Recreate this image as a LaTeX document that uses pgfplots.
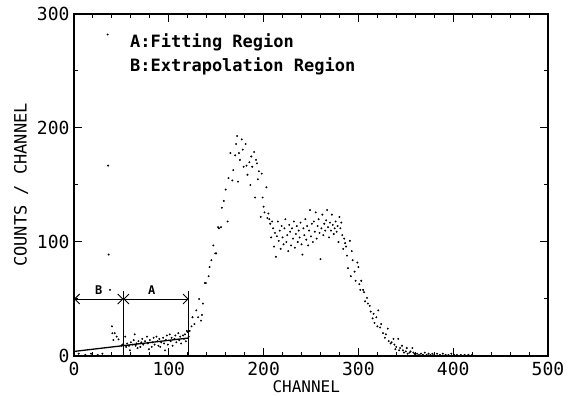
\documentclass[border=0pt]{standalone}
\usepackage{fontspec}
\setmainfont{DejaVu Sans Mono}
\usepackage{pgfplots}
\pgfplotsset{compat=1.18}
\usetikzlibrary{arrows.meta}
\begin{document}
\begin{tikzpicture}
\useasboundingbox (0pt,0pt) rectangle (568pt,396pt);
\begin{axis}[
  at={(74pt,40pt)}, anchor=south west,
  scale only axis, width=474pt, height=342pt,
  xmin=0, xmax=500, ymin=0, ymax=300,
  xtick={0,100,...,500}, ytick={0,100,200,300},
  minor x tick num=4, minor y tick num=1,
  tick align=inside, major tick length=8pt, minor tick length=4pt,
  axis line style={line width=1.2pt}, tick style={line width=1pt, black},
  /pgf/number format/assume math mode=true,
  ticklabel style={font=\fontsize{18}{18}\selectfont},
  xticklabel style={yshift=-3pt},
  yticklabel style={xshift=-1pt},
  xlabel={CHANNEL}, ylabel={COUNTS / CHANNEL},
  xlabel style={font=\fontsize{16}{16}\selectfont, at={(axis description cs:0.49,0)}, anchor=center, yshift=-31pt},
  ylabel style={font=\fontsize{17}{17}\selectfont, yshift=2pt},
  clip=false,
]
\addplot[only marks, mark=*, mark size=0.75pt, black] coordinates {
(5,2)(12,1)(18,2)(25,1)(30,2)
(35.5,282)(36,167)(36.6,89)(38,58)(40,26)(40.5,20)(41.5,14)(43,20)(45,17)(47,14.6)(50,9)(51,10)
(52,10)(54,17)(55,8)(56,11)(58,9)(59,5)(60,12)(62,10)(63,14)(64,19)(65,9)(66,11)(67,7)(68,13)(70,8)(71,12)(72,15)(73,10)(75,13)(77,17)(78,11)(79,6)(80,14)(82,8)(83,12)(84,16)(85,10)(87,17)(88,13)(89,9)(90,15)(91,8)(92,12)(94,16)(95,11)(96,5)(97,14)(98,18)(99,10)(101,19)(102,13)(103,16)(104,9)(106,15)(107,18)(108,12)(110,20)(111,14)(112,17)(113,11)(115,18)(116,15)(117,19)(118,13)(119,22)(120,21)(121,17)
(122,22)(124,26)(125,34)(127,28)(129,40)(131,34)(132,50)(134,31)(135,36)(136,46)(138,64)(139,64)(142,70)(143,78)(145,84)(147,97)(149,90)(150,90)(152,113)(153,112)(155,113)(156,130)(158,136)(160,146)(162,118)(163,156)(165,178)(167,154)(168,163)(170,176)(171,186)(172,193)(173,153)(174,178)(175,172)(177,190)(178,181)(179,166)(181,186)(182,167)(183,159)(185,170)(186,150)(187,175)(188,166)(190,179)(191,139)(192,172)(193,169)(194,155)(195,162)(197,122)(198,160)(199,139)(200,131)(201,126)(203,148)(204,121)(205,125)
(206,120)(207,116)(208,104)(209,118)(210,112)(211,96)(212,108)(213,87)(214,105)(215,118)(216,101)(217,110)(218,94)(219,114)(220,104)(221,98)(222,112)(223,120)(224,100)(225,106)(226,92)(227,115)(228,109)(229,97)(230,112)(231,103)(232,118)(233,95)(234,107)(235,114)(236,100)(237,110)(238,104)(239,117)(240,98)(241,89)(242,112)(243,106)(244,120)(245,102)(246,114)(247,97)(248,110)(249,128)(250,105)(251,116)(252,100)(253,118)(254,109)(255,126)(256,103)(257,114)(258,120)(259,108)(260,85)(261,112)(262,124)(263,106)(264,116)(265,110)(266,119)(267,128)(268,113)(269,104)(270,117)(271,110)(272,124)(273,115)(274,107)(275,112)(276,118)(277,109)(278,114)(279,100)(280,122)(281,112)(282,117)(283,106)(284,94)(285,103)
(286,99)(287,96)(288,88)(289,77)(291,101)(292,70)(293,92)(294,84)(296,74)(297,66)(299,82)(300,78)(301,63)(302,58)(303,66)(305,58)(306,56)(307,48)(309,51)(310,46)(312,44)(313,39)(315,33)(316,37)(317,29)(319,34)(320,26)(321,40)(323,25)(324,28)(326,20)(328,16)(329,19)(331,24)(332,13)(334,11)(335,12)(337,15)(338,10)(339,6)(340,8)(342,15)(343,5)(344,7)(346,9)(347,5)(348,3)(350,4)(351,7)(352,2)(354,3)(355,4)(357,7)(358,3)(359,2)(360,1)(362,2)(364,1)(366,2)(368,1)(370,3)(372,1)(374,2)(376,1)(378,2)(380,1)(383,2)(386,1)(389,2)(392,1)(395,1)(398,2)(401,1)(404,1)(408,1)(412,1)(416,1)(420,1)
};
\addplot[black, line width=1.3pt] coordinates {(0,4) (121,15.8)};
\addplot[black, line width=1.3pt] coordinates {(52,0) (52,57)};
\addplot[black, line width=1.3pt] coordinates {(121,0) (121,57)};
\draw[{Straight Barb[length=5pt]}-{Straight Barb[length=5pt]}, line width=0.9pt] (axis cs:0,50) -- (axis cs:52,50);
\draw[{Straight Barb[length=5pt]}-{Straight Barb[length=5pt]}, line width=0.9pt] (axis cs:52,50) -- (axis cs:121,50);
\node[font=\fontsize{12}{12}\selectfont\bfseries] at (axis cs:26,58) {B};
\node[font=\fontsize{12}{12}\selectfont\bfseries] at (axis cs:82,58) {A};
\node[anchor=west, font=\fontsize{17}{17}\selectfont\bfseries, inner sep=0pt] at (axis cs:59,275) {A:Fitting Region};
\node[anchor=west, font=\fontsize{17}{17}\selectfont\bfseries, inner sep=0pt] at (axis cs:59,254) {B:Extrapolation Region};
\end{axis}
\end{tikzpicture}
\end{document}
